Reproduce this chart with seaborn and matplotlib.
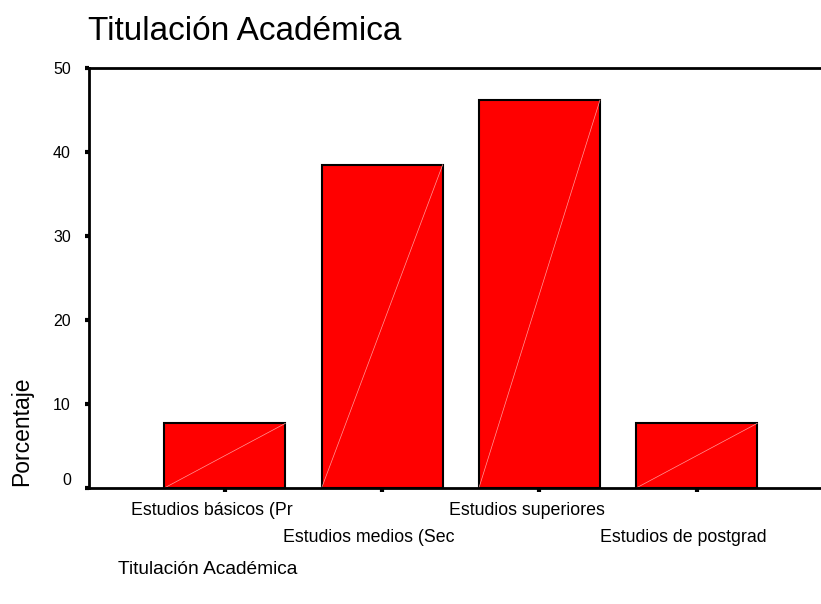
import numpy as np
import pandas as pd
import matplotlib
matplotlib.use("Agg")
import matplotlib.pyplot as plt
from matplotlib.transforms import ScaledTranslation
import seaborn as sns

# datos: porcentaje por titulación académica
categorias = ["Estudios básicos (Pr", "Estudios medios (Sec",
              "Estudios superiores", "Estudios de postgrad"]
porcentaje = [7.7, 38.5, 46.2, 7.7]
yticks = [0, 10, 20, 30, 40, 50]

df = pd.DataFrame({"titulacion": categorias, "porcentaje": porcentaje})

sns.set_style("white")
plt.rcParams["font.family"] = ["Liberation Sans", "DejaVu Sans"]
plt.rcParams["text.color"] = "black"

fig = plt.figure(figsize=(8.21, 6.04), dpi=100)
ax = fig.add_axes([89 / 821, (604 - 488) / 604, 1 - 89 / 821, (488 - 68) / 604])

sns.barplot(data=df, x="titulacion", y="porcentaje", color="#ff0000",
            saturation=1, edgecolor="black", linewidth=1.5, width=0.77, ax=ax)

# línea diagonal fina dentro de cada barra (como en SPSS)
for p in ax.patches:
    x0, y0 = p.get_x(), p.get_y()
    ax.plot([x0, x0 + p.get_width()], [y0, y0 + p.get_height()],
            color="#ff9a9a", lw=0.5, zorder=p.get_zorder() + 0.1)

ax.set_xlim(-0.864, 3.79)
ax.set_ylim(0, 50)
ax.set_yticks(yticks)
ax.set_xlabel("")
ax.set_ylabel("")

for s in ["left", "bottom", "top"]:
    ax.spines[s].set_color("black")
    ax.spines[s].set_linewidth(2)
ax.spines["right"].set_visible(False)

ax.tick_params(axis="y", direction="out", length=3, width=3, pad=10,
               labelsize=11.5, colors="black", left=True)
ax.tick_params(axis="x", direction="out", length=3, width=3,
               labelsize=12.8, colors="black", bottom=True)

# el 0 un poco por encima del eje
ax.get_yticklabels()[0].set_va("bottom")

# etiquetas escalonadas
ticks = ax.xaxis.get_major_ticks()
for i, t in enumerate(ticks):
    t.set_pad(7 if i % 2 == 0 else 26.5)
for lab in ax.get_xticklabels():
    lab.set_transform(lab.get_transform() + ScaledTranslation(-13 / 100, 0, fig.dpi_scale_trans))

fig.text(88 / 821, (604 - 40) / 604, "Titulación Académica", fontsize=24,
         ha="left", va="baseline", color="black")
fig.text(118 / 821, 1 - 570 / 604, "Titulación Académica", fontsize=13.8,
         ha="left", va="center", color="black")
fig.text(22 / 821, (604 - 486) / 604, "Porcentaje", fontsize=16.5,
         rotation=90, ha="center", va="bottom", color="black")

fig.savefig("out.png", dpi=100)
